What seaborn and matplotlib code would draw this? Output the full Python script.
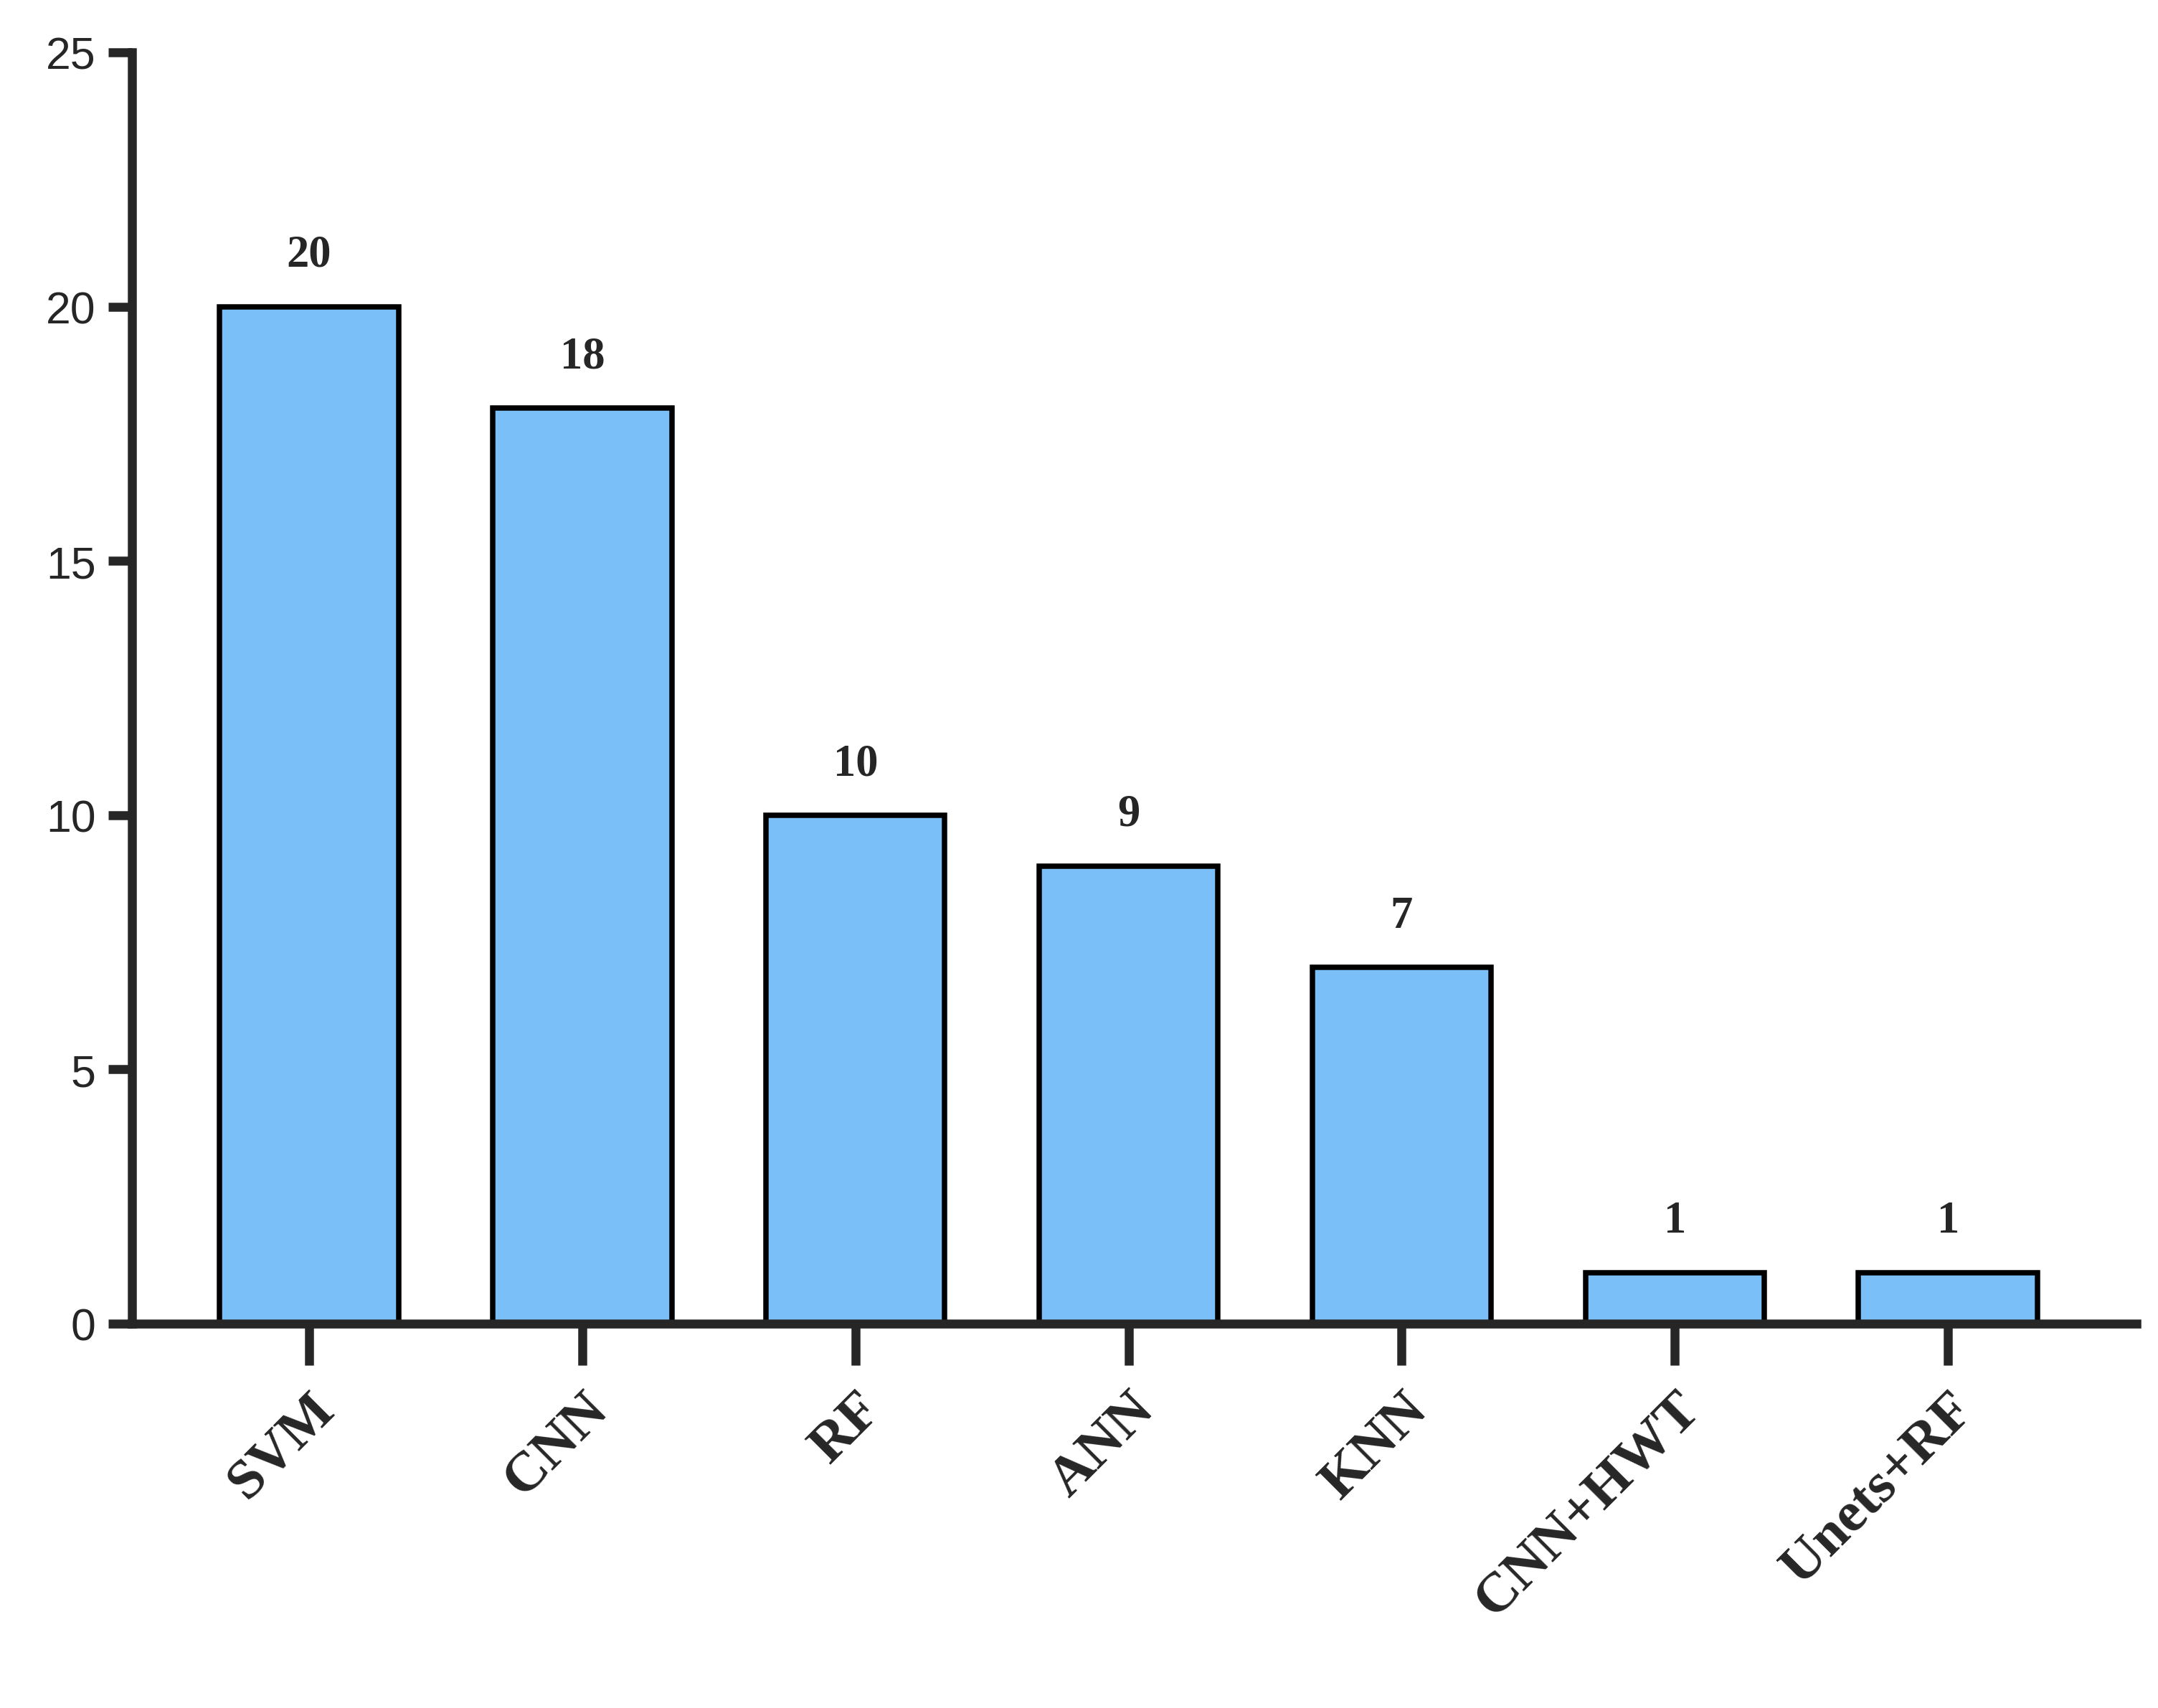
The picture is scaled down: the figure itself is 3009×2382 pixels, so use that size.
import matplotlib
matplotlib.use("Agg")
import matplotlib.pyplot as plt
import seaborn as sns
import pandas as pd

methods = ["SVM", "CNN", "RF", "ANN", "KNN", "CNN+HWT", "Unets+RF"]
counts = [20, 18, 10, 9, 7, 1, 1]

df = pd.DataFrame({"method": methods, "count": counts})

sns.set_style("ticks")
fig = plt.figure(figsize=(10.03, 7.943), dpi=300)
ax = fig.add_axes([0.061, 0.225, 0.929, 0.744])

sns.barplot(data=df, x="method", y="count", color="#7BBFF9", saturation=1,
            width=0.655, edgecolor="black", linewidth=1.8, ax=ax)

for i, v in enumerate(counts):
    ax.text(i, v + 0.6, str(v), ha="center", va="bottom",
            fontsize=15, fontweight="bold", family="Liberation Serif")

ax.set_xlim(-0.65, 6.69)
ax.set_ylim(0, 25)
ax.set_yticks([0, 5, 10, 15, 20, 25])
ax.set_xlabel("")
ax.set_ylabel("")
sns.despine(ax=ax)
for s in ["left", "bottom"]:
    ax.spines[s].set_linewidth(3)
ax.tick_params(axis="y", length=8, width=3, labelsize=15, pad=4)
ax.tick_params(axis="x", length=14, width=3, pad=6)
for lbl in ax.get_yticklabels():
    lbl.set_family("Liberation Sans")
ax.set_xticks(range(len(methods)))
ax.set_xticklabels(methods, rotation=45, ha="right", rotation_mode="anchor",
                   fontsize=19, fontweight="bold", family="Liberation Serif")

fig.savefig("out.png", dpi=300)
